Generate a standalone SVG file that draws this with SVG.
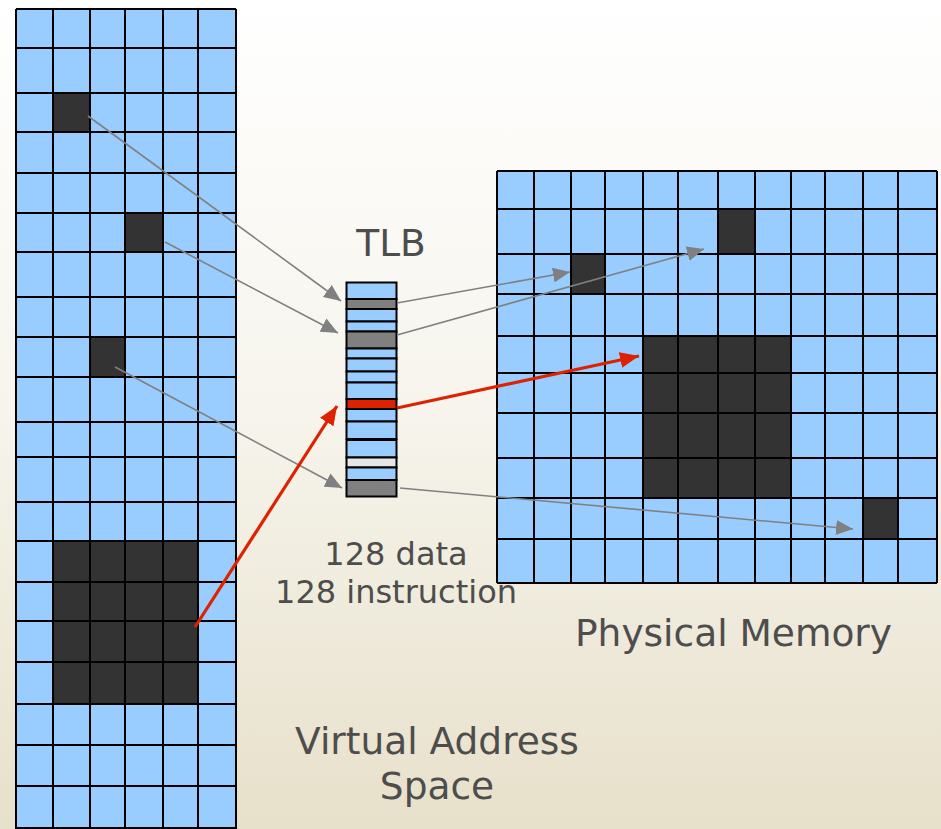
<svg xmlns="http://www.w3.org/2000/svg" width="941" height="829" viewBox="0 0 941 829">
<defs>
<linearGradient id="bg" x1="0" y1="0" x2="0" y2="1">
<stop offset="0" stop-color="#ffffff"/>
<stop offset="0.5" stop-color="#f6f4ec"/>
<stop offset="1" stop-color="#e7e0ca"/>
</linearGradient>
<marker id="ag" markerUnits="userSpaceOnUse" markerWidth="17" markerHeight="15" viewBox="0 0 17 15" refX="17" refY="7.5" orient="auto">
<path d="M0,0 L17,7.5 L0,15 z" fill="#808080"/>
</marker>
<marker id="ar" markerUnits="userSpaceOnUse" markerWidth="19" markerHeight="16" viewBox="0 0 19 16" refX="19" refY="8" orient="auto">
<path d="M0,0 L19,8 L0,16 z" fill="#dd2200"/>
</marker>
<style>
.blue{fill:#99ccff}
.dark{fill:#333333}
.grid{fill:none;stroke:#000;stroke-width:2}
.e{stroke:#000;stroke-width:2}
.eb{fill:#99ccff}
.eg{fill:#808080}
.er{fill:#dd2200}
.el{fill:#e6e6e6}
.gl{fill:none;stroke:#808080;stroke-width:1.6}
.rl{fill:none;stroke:#dd2200;stroke-width:3.2}
.lbl{font-family:"DejaVu Sans","Noto Sans",sans-serif;fill:#4d4d4d;text-anchor:middle}
</style>
</defs>
<rect width="941" height="829" fill="url(#bg)"/>

<g id="virtual-address-space">
<rect class="blue" x="16" y="9" width="220" height="830"/>
<rect class="dark" x="53" y="93" width="37" height="39"/>
<rect class="dark" x="125" y="213" width="38" height="39"/>
<rect class="dark" x="90" y="337" width="35" height="40"/>
<rect class="dark" x="53" y="541" width="145" height="163"/>
<path class="grid" d="M16,9V840M53,9V840M90,9V840M125,9V840M163,9V840M198,9V840M236,9V840
M16,9H236M16,48H236M16,93H236M16,132H236M16,173H236M16,213H236M16,252H236M16,297H236M16,337H236M16,377H236M16,422H236M16,457H236M16,502H236M16,541H236M16,582H236M16,621H236M16,662H236M16,704H236M16,745H236M16,786H236M16,828H236"/>
</g>

<g id="physical-memory">
<rect class="blue" x="497" y="171" width="440" height="412"/>
<rect class="dark" x="718" y="209" width="37" height="45"/>
<rect class="dark" x="571" y="254" width="34" height="40"/>
<rect class="dark" x="643" y="336" width="148" height="162"/>
<rect class="dark" x="863" y="498" width="35" height="41"/>
<path class="grid" d="M497,171V583M534,171V583M571,171V583M605,171V583M643,171V583M678,171V583M718,171V583M755,171V583M791,171V583M825,171V583M863,171V583M898,171V583M937,171V583
M497,171H937M497,209H937M497,254H937M497,294H937M497,336H937M497,373H937M497,413H937M497,458H937M497,498H937M497,539H937M497,583H937"/>
</g>

<g id="tlb">
<rect class="e eb" x="346.5" y="282.5" width="50" height="16.5"/>
<rect class="e eg" x="346.5" y="299" width="50" height="10"/>
<rect class="e eb" x="346.5" y="309" width="50" height="12.5"/>
<rect class="e eb" x="346.5" y="321.5" width="50" height="10"/>
<rect class="e eg" x="346.5" y="331.5" width="50" height="17"/>
<rect class="e eb" x="346.5" y="348.5" width="50" height="10"/>
<rect class="e eb" x="346.5" y="358.5" width="50" height="13"/>
<rect class="e eb" x="346.5" y="371.5" width="50" height="11"/>
<rect class="e eb" x="346.5" y="382.5" width="50" height="16.5"/>
<rect class="e er" x="346.5" y="399" width="50" height="10"/>
<rect class="e eb" x="346.5" y="409" width="50" height="12.5"/>
<rect class="e eb" x="346.5" y="421.5" width="50" height="17.5"/>
<rect class="e eb" x="346.5" y="440" width="50" height="17.5"/>
<rect class="e el" x="346.5" y="457.5" width="50" height="10"/>
<rect class="e eb" x="346.5" y="467.5" width="50" height="12.5"/>
<rect class="e eg" x="346.5" y="480" width="50" height="16.5"/>
</g>

<g id="connectors">
<path class="gl" d="M88,116 L341,301" marker-end="url(#ag)"/>
<path class="gl" d="M165,242 L338,333" marker-end="url(#ag)"/>
<path class="gl" d="M115,367 L342,488" marker-end="url(#ag)"/>
<path class="gl" d="M397,303 L570,272" marker-end="url(#ag)"/>
<path class="gl" d="M397,335 L704,249" marker-end="url(#ag)"/>
<path class="gl" d="M400,488 L853,529" marker-end="url(#ag)"/>
<path class="rl" d="M195,627 L337,406" marker-end="url(#ar)"/>
<path class="rl" d="M397,408 L639,356" marker-end="url(#ar)"/>
</g>

<g id="labels">
<text class="lbl" x="391" y="256" font-size="37.5">TLB</text>
<text class="lbl" x="396" y="565" font-size="32">128 data</text>
<text class="lbl" x="396" y="603" font-size="32">128 instruction</text>
<text class="lbl" x="733.5" y="646" font-size="37.5">Physical Memory</text>
<text class="lbl" x="437" y="754" font-size="37.5">Virtual Address</text>
<text class="lbl" x="437" y="798.5" font-size="37.5">Space</text>
</g>
</svg>
